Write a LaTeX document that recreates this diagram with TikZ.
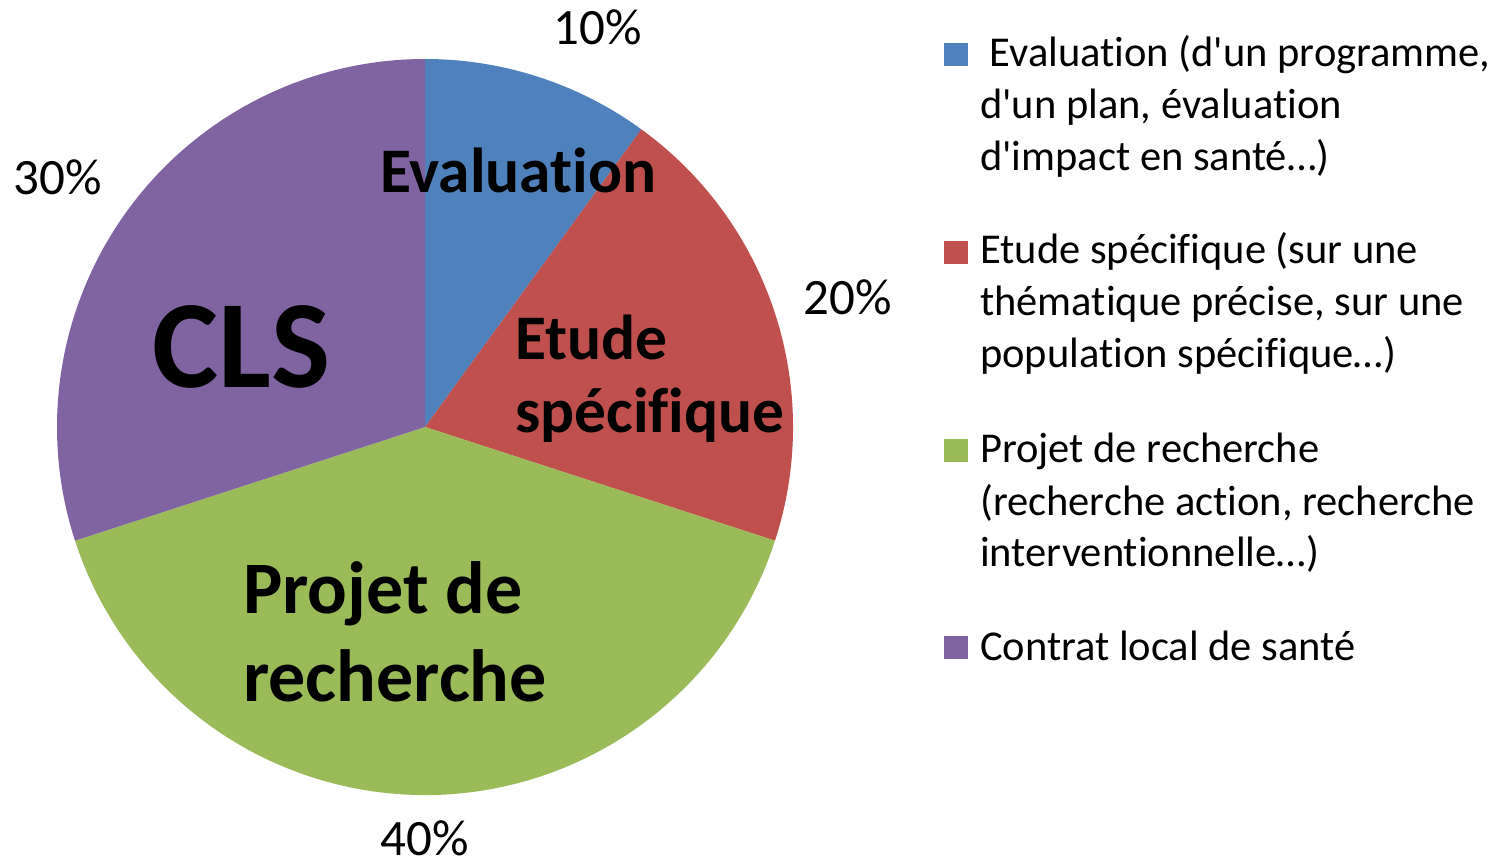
\documentclass[tikz,border=0pt]{standalone}
\usepackage{fontspec}
\setmainfont{Carlito}[Ligatures=NoCommon]

\definecolor{evalblue}{HTML}{4F81BD}
\definecolor{etudered}{HTML}{C0504D}
\definecolor{projgreen}{HTML}{9BBB59}
\definecolor{clspurple}{HTML}{8064A2}

\def\startangle{90}
\def\radius{368pt}
\def\q{\textquotesingle}

\tikzset{
  pct/.style={anchor=base, font=\fontsize{51}{60}\selectfont},
  slicelabel/.style={anchor=base west, align=left, font=\bfseries\fontsize{63.5}{73}\selectfont},
  legtext/.style={anchor=base west, align=left, font=\fontsize{42.5}{52}\selectfont},
}

\begin{document}
\begin{tikzpicture}[x=1pt, y=1pt, nodes={inner sep=0pt}]
  \useasboundingbox (0,0) rectangle (1506,865);
  \coordinate (centre) at (425,438);
  % Slices, clockwise from the top
  \foreach \percent/\slicecol in {10/evalblue, 20/etudered, 40/projgreen, 30/clspurple} {
      \fill[\slicecol] (centre) -- ++(\startangle:\radius)
        arc (\startangle:\startangle-\percent*3.6:\radius) -- cycle;
      \pgfmathparse{\startangle-\percent*3.6} % Advance angle
      \xdef\startangle{\pgfmathresult}        %   and keep it
    };
  % Percentages round the pie
  \node[pct] (p10) at (598,820) {10\%};
  \node[pct] (p20) at (848,550) {20\%};
  \node[pct] (p40) at (425,10)  {40\%};
  \node[pct] (p30) at (58,670)  {30\%};
  % Labels inside the slices (base = last line)
  \node[slicelabel] (leval) at (380,672) {Evaluation};
  \node[slicelabel] (letude) at (515,432) {Etude\\spécifique};
  \node[slicelabel, font=\bfseries\fontsize{74}{88}\selectfont] (lprojet) at (243,164) {Projet de\\recherche};
  \node[slicelabel, font=\bfseries\fontsize{125}{140}\selectfont] (lcls) at (152,477) {CLS};
  % Legend (base = last line)
  \node[legtext] (keval) at (980,694) {\ Evaluation (d\q un programme,\\d\q un plan, évaluation\\d\q impact en santé…)};
  \node[legtext] (ketude) at (980,497) {Etude spécifique (sur une\\thématique précise, sur une\\population spécifique…)};
  \node[legtext] (kprojet) at (980,298) {Projet de recherche\\(recherche action, recherche\\interventionnelle…)};
  \node[legtext] (kcls) at (980,205) {Contrat local de santé};
  \foreach \yb/\slicecol in {798/evalblue, 600/etudered, 402/projgreen, 205/clspurple}
    \fill[\slicecol] (944,\yb+1) rectangle ++(24,23);
\end{tikzpicture}
\end{document}
